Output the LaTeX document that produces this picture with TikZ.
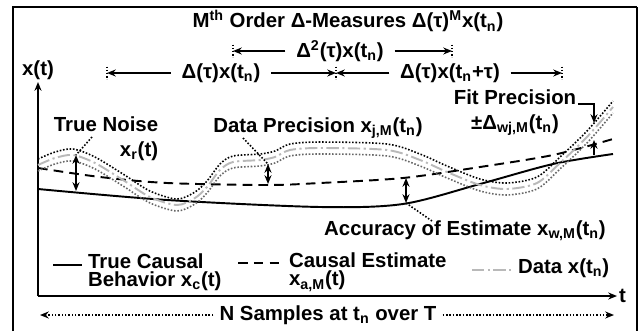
\documentclass[tikz,border=0pt]{standalone}
\usepackage{fontspec}
\setmainfont{Liberation Sans}
\usetikzlibrary{arrows.meta}

\begin{document}
\begin{tikzpicture}[x=0.02cm,y=-0.02cm,font=\fontsize{11.6}{14.2}\selectfont\bfseries,
  tip/.tip={Stealth[length=5pt,width=4pt]},
  dimarrow/.style={-tip,line width=0.8pt},
  dimtick/.style={densely dotted,line width=0.8pt},
  gaparrow/.style={tip-tip,line width=1pt},
  leader/.style={densely dotted,line width=0.9pt},
  dotarrow/.style={-tip,densely dotted,line width=0.9pt},
  truecurve/.style={line width=1.1pt},
  estcurve/.style={line width=1.1pt,dash pattern=on 5.5pt off 3.5pt},
  datacurve/.style={gray!55,line width=1.1pt,dash pattern=on 7pt off 2pt on 1.2pt off 2pt},
  bandup/.style={densely dotted,line width=0.9pt},
  banddown/.style={densely dotted,black!60,line width=0.9pt},
  dimlbl/.style={inner xsep=6pt},
  legtxt/.style={align=left,font=\fontsize{11.6}{10.4}\selectfont\bfseries,inner sep=1pt}]
 \useasboundingbox (0,0) rectangle (641,331);
 % frame
 \draw[line width=1.6pt] (13,331)--(13,7)--(637,7);
 \draw[line width=1pt] (637,7)--(637,331);

 % axes
 \coordinate (org) at (38,296);
 \coordinate (ytop) at (38,82);
 \coordinate (tend) at (617,296);
 \draw[-tip,line width=1pt] (org) -- (ytop);
 \draw[-tip,line width=1pt] (org) -- (tend);
 \node (xt) at (38,70) {x(t)};
 \node[anchor=west,inner sep=1pt] (tl) at (tend) {t};

 % delta measures
 \node (ttl) at (348,21) {M\textsuperscript{th} Order Δ-Measures Δ(τ)\textsuperscript{M}x(t\textsubscript{n})};
 \node[dimlbl] (dsq) at (340,51) {Δ\textsuperscript{2}(τ)x(t\textsubscript{n})};
 \node[dimlbl] (dna) at (221,73) {Δ(τ)x(t\textsubscript{n})};
 \node[dimlbl] (dnb) at (450,73) {Δ(τ)x(t\textsubscript{n}+τ)};
 \coordinate (ka) at (107,73);
 \coordinate (kb) at (336,73);
 \coordinate (kc) at (562,73);
 \coordinate (ku) at (233,51);
 \coordinate (kv) at (452,51);
 \foreach \k in {ka,kb,kc,ku,kv}
   \draw[dimtick] ([yshift=3.6pt]\k) -- ([yshift=-3.6pt]\k);
 \draw[dimarrow] (dna) -- (ka);
 \draw[dimarrow] (dna) -- (kb);
 \draw[dimarrow] (dnb) -- (kb);
 \draw[dimarrow] (dnb) -- (kc);
 \draw[dimarrow] (dsq) -- (ku);
 \draw[dimarrow] (dsq) -- (kv);

 % curves
 \draw[truecurve] plot[smooth] coordinates {(38,189) (167,200) (320,207) (403,204) (480,184) (553,164) (613,154)};
 \draw[estcurve] plot[smooth] coordinates {(38,168) (100,177) (167,183) (267,185) (320,183) (403,178) (480,167) (553,155) (613,139)};
 \foreach \sh/\sty in {3.4pt/bandup,-3.4pt/banddown,0pt/datacurve}
   \draw[\sty,yshift=\sh] plot[smooth] coordinates {(38,165) (55,158) (73,155) (95,163) (123,180) (150,197) (177,205)
     (195,198) (207,187) (220,170) (233,162) (260,160) (275,157) (290,150) (320,148) (387,150) (420,160)
     (447,172) (480,185) (507,189) (537,183) (560,163) (587,137) (613,107)};

 % true noise
 \node[align=right,inner sep=1pt] (noise) at (106,139) {True Noise\\x\textsubscript{r}(t)};
 \coordinate (nzl) at (92,137);
 \coordinate (nzt) at (76,155);
 \coordinate (nzb) at (76,191);
 \draw[gaparrow] (nzt) -- (nzb);
 \draw[leader] (nzl) -- (nzt);

 % data precision
 \node[inner sep=1pt] (prec) at (318,128) {Data Precision x\textsubscript{j,M}(t\textsubscript{n})};
 \coordinate (prl) at (243,138);
 \coordinate (prt) at (268,164);
 \coordinate (prb) at (268,184);
 \draw[gaparrow] (prt) -- (prb);
 \draw[leader] (prl) -- (prt);

 % fit precision
 \node[align=center,inner sep=1pt] (fit) at (515,113) {Fit Precision\\±Δ\textsubscript{wj,M}(t\textsubscript{n})};
 \coordinate (fa) at (578,104);
 \coordinate (fb) at (594,104);
 \coordinate (fc) at (594,123);
 \coordinate (fd) at (594,155);
 \coordinate (fe) at (594,140);
 \draw[-tip,line width=1pt] (fa) -- (fb) -- (fc);
 \draw[-tip,line width=1pt] (fd) -- (fe);

 % accuracy
 \node[inner sep=1pt] (acc) at (465,231) {Accuracy of Estimate x\textsubscript{w,M}(t\textsubscript{n})};
 \coordinate (act) at (406,178);
 \coordinate (acb) at (406,203);
 \coordinate (acl) at (432,221);
 \draw[gaparrow] (act) -- (acb);
 \draw[leader] (acb) -- (acl);

 % legend
 \coordinate (sa) at (53,265);
 \coordinate (sb) at (82,265);
 \coordinate (sc) at (238,263);
 \coordinate (sd) at (280,263);
 \coordinate (se) at (472,270);
 \coordinate (sf) at (512,270);
 \draw[truecurve] (sa) -- (sb);
 \draw[estcurve] (sc) -- (sd);
 \draw[datacurve] (se) -- (sf);
 \node[legtxt,anchor=west] (lga) at (86,272) {True Causal\\Behavior x\textsubscript{c}(t)};
 \node[legtxt,anchor=west] (lgb) at (287,272) {Causal Estimate\\x\textsubscript{a,M}(t)};
 \node[legtxt,anchor=west] (lgc) at (516,268) {Data x(t\textsubscript{n})};

 % samples
 \node (nsam) at (328,315) {N Samples at t\textsubscript{n} over T};
 \coordinate (nl) at (40,315);
 \coordinate (nr) at (614,315);
 \draw[dotarrow] (nsam) -- (nl);
 \draw[dotarrow] (nsam) -- (nr);
\end{tikzpicture}
\end{document}
